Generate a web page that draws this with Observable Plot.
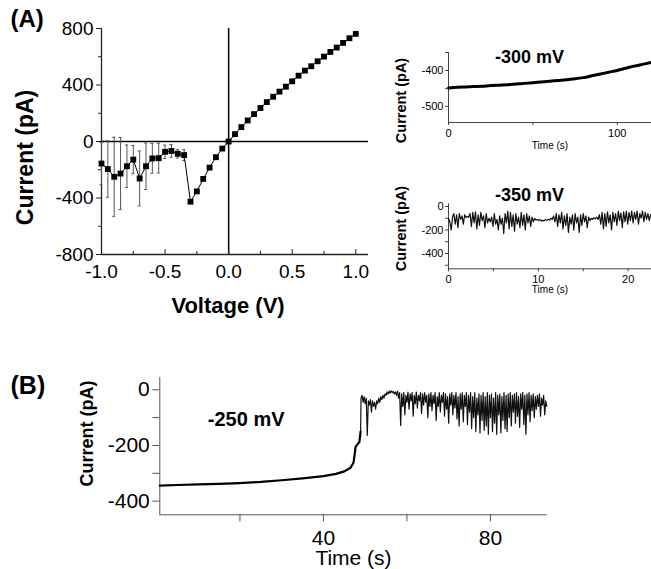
<!DOCTYPE html>
<html>
<head>
<meta charset="utf-8">
<script src="https://cdn.jsdelivr.net/npm/d3@7"></script>
<script src="https://cdn.jsdelivr.net/npm/@observablehq/plot@0.6"></script>
<style>
  html, body { margin: 0; padding: 0; background: #fff; }
  #wrap { position: relative; width: 651px; height: 569px; overflow: hidden; background: #fff; }
  #wrap svg { position: absolute; }
</style>
</head>
<body>
<div id="wrap"></div>
<script>
// ---------------- Panel A: I-V curve ----------------
const ivVoltage = [-1.0,-0.95,-0.9,-0.85,-0.8,-0.75,-0.7,-0.65,-0.6,-0.55,-0.5,-0.45,-0.4,-0.35,
  -0.3,-0.25,-0.2,-0.15,-0.1,-0.05,0.0,0.05,0.1,0.15,0.2,0.25,0.3,0.35,0.4,0.45,0.5,
  0.55,0.6,0.65,0.7,0.75,0.8,0.85,0.9,0.95,1.0];
const ivCurrent = [-156,-195,-250,-227,-175,-128,-262,-175,-120,-118,-73,-67,-87,-96,
  -426,-353,-265,-185,-111,-50,0,52,102,149,194,237,279,317,353,388,426,
  466,502,533,568,601,634,665,698,731,762];
const errVoltage = [-1.0,-0.95,-0.9,-0.85,-0.8,-0.75,-0.7,-0.65,-0.6,-0.55,-0.5,-0.45,-0.4,-0.35];
const errSD = [150,200,280,255,150,100,195,165,105,105,47,45,30,38];
const ivXTicks = [-1.0,-0.5,0.0,0.5,1.0];
const ivXMinor = [-0.75,-0.25,0.25,0.75];
const ivYTicks = [800,400,0,-400,-800];
const ivYMinor = [600,200,-200,-600];

// ---------------- Inset: -300 mV trace ----------------
const t300 = [0,5,10,15,20,25,30,35,40,45,50,55,60,65,70,75,80,85,90,95,100,105,110,115,120];
const i300 = [-449,-447,-446,-445,-444,-442,-441,-440,-438,-436,-434,-432,-430,-428,-426,-423,-420,-415,-410,-405,-400,-394,-388,-383,-378];
const x300Ticks = [0,100];
const x300Minor = [50];
const y300Ticks = [-400,-500];
const y300Minor = [-350,-450];

// ---------------- Inset: -350 mV trace (sampled every 0.15 s) ----------------
const t350Start = 0, t350Step = 0.15;
const i350 = [-100,-130,-200,-90,-60,-150,-70,-180,-60,-110,-80,-150,-70,-95,-85,-90,
  -60,-170,-50,-140,-45,-190,-70,-160,-50,-120,-80,-180,-60,-140,-100,-130,-90,-170,
  -60,-150,-110,-200,-80,-150,-100,-230,-60,-140,-40,-190,-50,-170,-70,-210,-60,-150,
  -90,-180,-50,-160,-70,-200,-60,-140,-80,-170,-90,-130,-100,-115,-110,-120,-112,-125,
  -118,-122,-110,-118,-108,-115,-100,-110,-80,-130,-60,-170,-70,-140,-50,-190,-80,-160,
  -60,-220,-90,-150,-70,-200,-60,-140,-90,-220,-70,-160,-60,-130,-80,-180,-90,-120,
  -100,-110,-95,-105,-90,-110,-70,-150,-50,-190,-60,-170,-45,-140,-70,-200,-50,-130,
  -60,-160,-40,-120,-55,-180,-45,-130,-40,-150,-50,-120,-40,-140,-50,-110,-40,-150,
  -60,-100,-40,-130,-50,-110,-60,-120,-70,-90];
const x350Ticks = [0,10,20];
const x350Minor = [5,15];
const y350Ticks = [0,-200,-400];
const y350Minor = [-100,-300,-500];

// ---------------- Panel B: -250 mV trace ----------------
const tB = [0.8,5,10,15,20,25,30,35,40,43,45,46.5,47.2,47.5,47.7,48.2,48.6,48.9];
const iB = [-344,-342,-340,-338,-335,-331,-325,-318,-310,-302,-293,-280,-262,-230,-205,-195,-188,-150];
const tBNoiseStart = 49.0, tBNoiseStep = 0.25;
const iBNoise = [-30,-20,-45,-25,-50,-30,-164,-40,-55,-35,-80,-40,-60,-45,-70,-40,-50,-30,
  -45,-25,-35,-20,-30,-15,-20,-8,-15,-5,-12,-4,-10,-6,-15,-8,-20,-5,-30,-10,-128,-15,
  -60,-10,-90,-20,-45,-8,-70,-15,-40,-10,-95,-20,-50,-8,-65,-20,-40,-10,-85,-15,-55,-10,
  -45,-20,-100,-15,-60,-10,-75,-20,-50,-10,-110,-25,-60,-10,-80,-20,-45,-10,-95,-15,
  -70,-25,-120,-15,-55,-10,-90,-20,-65,-10,-105,-25,-130,-15,-70,-10,-115,-20,-60,-10,
  -125,-20,-80,-10,-140,-25,-100,-10,-150,-30,-90,-15,-155,-20,-110,-10,-145,-25,-130,
  -10,-160,-20,-100,-15,-150,-30,-120,-10,-160,-20,-90,-15,-155,-25,-110,-10,-140,-20,
  -150,-15,-100,-10,-130,-20,-80,-15,-120,-10,-95,-25,-135,-15,-70,-10,-125,-20,-160,
  -15,-90,-10,-115,-20,-75,-15,-100,-25,-70,-20,-60,-15,-95,-30,-55,-20,-90,-40,-60];
const xBTicks = [40,80];
const xBMinor = [20,60];
const yBTicks = [0,-200,-400];
const yBMinor = [-100,-300];

// ---------------- helpers ----------------
const FONT = "'Liberation Sans', Arial, Helvetica, sans-serif";
const wrap = document.getElementById("wrap");
function place(svg, left, top) {
  svg.style.left = left + "px";
  svg.style.top = top + "px";
  wrap.appendChild(svg);
}
const fmtInt = d => String(d);
const fmt1 = d => d.toFixed(1);
const blank = () => "";
function label(text, o) {
  return Plot.text([text], {text: d => d, fill: "#000", textAnchor: "middle", lineAnchor: "middle", ...o});
}

// ---------------- Panel A ----------------
const ivRows = ivVoltage.map((v, k) => ({v, i: ivCurrent[k]}));
const errRows = errVoltage.map((v, k) => {
  const c = ivCurrent[ivVoltage.indexOf(v)];
  return {v, lo: c - errSD[k], hi: c + errSD[k]};
});
const xDomA = [-1.0, 1.1], yDomA = [-800, 800];
const plotA = Plot.plot({
  width: 380, height: 330,
  marginLeft: 101, marginRight: 12, marginTop: 28, marginBottom: 76,
  x: {domain: xDomA}, y: {domain: yDomA},
  style: {fontFamily: FONT, color: "#000", background: "transparent", overflow: "visible"},
  marks: [
    Plot.ruleX([xDomA[0]], {stroke: "#222", strokeWidth: 1.3}),
    Plot.ruleY([yDomA[0]], {stroke: "#222", strokeWidth: 1.3}),
    Plot.ruleY([0], {stroke: "#000", strokeWidth: 1.5}),
    Plot.ruleX([0], {stroke: "#000", strokeWidth: 1.5}),
    Plot.ruleX(errRows, {x: "v", y1: "lo", y2: "hi", stroke: "#555", strokeWidth: 1}),
    Plot.ruleY(errRows, {y: "lo", x1: d => d.v - 0.012, x2: d => d.v + 0.012, stroke: "#555", strokeWidth: 1}),
    Plot.ruleY(errRows, {y: "hi", x1: d => d.v - 0.012, x2: d => d.v + 0.012, stroke: "#555", strokeWidth: 1}),
    Plot.line(ivRows, {x: "v", y: "i", stroke: "#000", strokeWidth: 1}),
    Plot.dot(ivRows, {x: "v", y: "i", symbol: "square", fill: "#000", stroke: "none", r: 3.3}),
    Plot.axisY({ticks: ivYTicks, tickSize: 5, tickPadding: 3, fontSize: 19, tickFormat: fmtInt, label: null, stroke: "#222"}),
    Plot.axisY({ticks: ivYMinor, tickSize: 3, tickFormat: blank, label: null, stroke: "#222"}),
    Plot.axisX({ticks: ivXTicks, tickSize: 5, dy: -5, tickFormat: blank, label: null, stroke: "#222"}),
    Plot.axisX({ticks: ivXMinor, tickSize: 3, dy: -3, tickFormat: blank, label: null, stroke: "#222"}),
    Plot.axisX({ticks: ivXTicks, tickSize: 0, tickPadding: 9.5, fontSize: 19, tickFormat: fmt1, label: null}),
    label("Current (pA)", {frameAnchor: "left", dx: -76, dy: 16, rotate: -90, fontSize: 23, fontWeight: "bold"}),
    label("Voltage (V)", {frameAnchor: "bottom", dx: -7, dy: 51, fontSize: 22, fontWeight: "bold"}),
    label("(A)", {frameAnchor: "top-left", dx: -91, dy: -9, textAnchor: "start", fontSize: 24, fontWeight: "bold"})
  ]
});
place(plotA, 0, 0);

// ---------------- Inset -300 mV ----------------
const rows300 = t300.map((t, k) => ({t, i: i300[k]}));
const xDom300 = [0, 120.3], yDom300 = [-545, -350];
const plot300 = Plot.plot({
  width: 271, height: 160,
  marginLeft: 68, marginRight: 0, marginTop: 52, marginBottom: 38,
  x: {domain: xDom300}, y: {domain: yDom300},
  style: {fontFamily: FONT, color: "#000", background: "transparent", overflow: "visible"},
  marks: [
    Plot.ruleX([xDom300[0]], {stroke: "#444", strokeWidth: 1}),
    Plot.ruleY([yDom300[0]], {stroke: "#444", strokeWidth: 1}),
    Plot.line(rows300, {x: "t", y: "i", stroke: "#000", strokeWidth: 3, curve: "monotone-x"}),
    Plot.axisY({ticks: y300Ticks, tickSize: 3, tickPadding: 2, fontSize: 11, tickFormat: fmtInt, label: null, stroke: "#444"}),
    Plot.axisY({ticks: y300Minor, tickSize: 3, tickFormat: blank, label: null, stroke: "#444"}),
    Plot.axisX({ticks: x300Ticks, tickSize: 3, tickPadding: 4, fontSize: 11, tickFormat: fmtInt, label: null, stroke: "#444"}),
    Plot.axisX({ticks: x300Minor, tickSize: 3, tickFormat: blank, label: null, stroke: "#444"}),
    label("-300 mV", {frameAnchor: "top-left", dx: 81, dy: 5, fontSize: 18, fontWeight: "bold"}),
    label("Current (pA)", {frameAnchor: "left", dx: -47.3, dy: 13, rotate: -90, fontSize: 14.5, fontWeight: "bold"}),
    label("Time (s)", {frameAnchor: "bottom", dx: 0, dy: 23, fontSize: 10})
  ]
});
place(plot300, 380, 0);

// ---------------- Inset -350 mV ----------------
const rows350 = i350.map((i, k) => ({t: t350Start + k * t350Step, i}));
const xDom350 = [0, 22.6], yDom350 = [-530, 23];
const plot350 = Plot.plot({
  width: 271, height: 140,
  marginLeft: 68, marginRight: 0, marginTop: 43.3, marginBottom: 31.7,
  x: {domain: xDom350}, y: {domain: yDom350},
  style: {fontFamily: FONT, color: "#000", background: "transparent", overflow: "visible"},
  marks: [
    Plot.ruleX([xDom350[0]], {stroke: "#444", strokeWidth: 1}),
    Plot.ruleY([yDom350[0]], {stroke: "#444", strokeWidth: 1}),
    Plot.line(rows350, {x: "t", y: "i", stroke: "#111", strokeWidth: 1.2}),
    Plot.axisY({ticks: y350Ticks, tickSize: 3, tickPadding: 2, fontSize: 11, tickFormat: fmtInt, label: null, stroke: "#444"}),
    Plot.axisY({ticks: y350Minor, tickSize: 3, tickFormat: blank, label: null, stroke: "#444"}),
    Plot.axisX({ticks: x350Ticks, tickSize: 3, tickPadding: 3, fontSize: 11, tickFormat: fmtInt, label: null, stroke: "#444"}),
    Plot.axisX({ticks: x350Minor, tickSize: 3, tickFormat: blank, label: null, stroke: "#444"}),
    label("-350 mV", {frameAnchor: "top-left", dx: 81, dy: -8.3, fontSize: 18, fontWeight: "bold"}),
    label("Current (pA)", {frameAnchor: "left", dx: -47.3, dy: -7.8, rotate: -90, fontSize: 14.5, fontWeight: "bold"}),
    label("Time (s)", {frameAnchor: "bottom", dx: 0, dy: 20.7, fontSize: 10})
  ]
});
place(plot350, 380, 160);

// ---------------- Panel B ----------------
const rowsB = tB.map((t, k) => ({t, i: iB[k]}));
const rowsBNoise = [rowsB[rowsB.length - 1]].concat(
  iBNoise.map((i, k) => ({t: tBNoiseStart + k * tBNoiseStep, i})));
const xDomB = [0.8, 93.6], yDomB = [-449, 44];
const plotB = Plot.plot({
  width: 651, height: 239,
  marginLeft: 159.3, marginRight: 104.3, marginTop: 47, marginBottom: 54.7,
  x: {domain: xDomB}, y: {domain: yDomB},
  style: {fontFamily: FONT, color: "#000", background: "transparent", overflow: "visible"},
  marks: [
    Plot.ruleX([xDomB[0]], {stroke: "#555", strokeWidth: 1}),
    Plot.ruleY([yDomB[0]], {stroke: "#555", strokeWidth: 1}),
    Plot.line(rowsB, {x: "t", y: "i", stroke: "#000", strokeWidth: 2.2}),
    Plot.line(rowsBNoise, {x: "t", y: "i", stroke: "#111", strokeWidth: 1.2}),
    Plot.axisY({ticks: yBTicks, tickSize: 7, tickPadding: 3, fontSize: 21, tickFormat: fmtInt, label: null, stroke: "#555"}),
    Plot.axisY({ticks: yBMinor, tickSize: 7, tickFormat: blank, label: null, stroke: "#555"}),
    Plot.axisX({ticks: xBTicks, tickSize: 7, tickPadding: 8, fontSize: 21, tickFormat: fmtInt, label: null, stroke: "#555"}),
    Plot.axisX({ticks: xBMinor, tickSize: 7, tickFormat: blank, label: null, stroke: "#555"}),
    label("-250 mV", {frameAnchor: "top-left", dx: 86.4, dy: 42.3, fontSize: 20, fontWeight: "bold"}),
    label("Current (pA)", {frameAnchor: "left", dx: -72.3, dy: -12.7, rotate: -90, fontSize: 18, fontWeight: "bold"}),
    label("Time (s)", {frameAnchor: "bottom", dx: 0, dy: 43.7, fontSize: 21}),
    label("(B)", {frameAnchor: "top-left", dx: -149.3, dy: 8, textAnchor: "start", fontSize: 25, fontWeight: "bold"})
  ]
});
place(plotB, 0, 330);
</script>
</body>
</html>
